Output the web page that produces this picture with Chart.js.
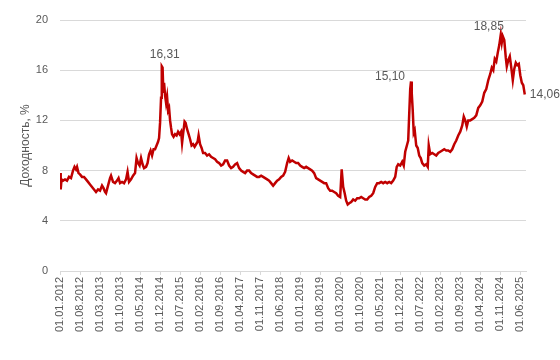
<!DOCTYPE html>
<html>
<head>
<meta charset="utf-8">
<script src="https://cdn.jsdelivr.net/npm/chart.js@4"></script>
<style>
  body { margin: 0; background: #fff; }
</style>
</head>
<body>
<canvas id="chart" width="560" height="360"></canvas>
<script>
// месяцы от 01.01.2012
const months = [
  0, 0.25, 0.53, 1.05, 1.75, 2.45, 3.15, 3.85, 4.55, 5.08, 5.6, 5.95, 6.48, 7, 7.7, 8.4, 9.1, 9.8, 10.5, 11.2,
  11.9, 12.6, 13.3, 14, 14.7, 15.23, 15.75, 16.1, 16.8, 17.5, 17.85, 18.55, 19.25, 19.95, 20.48, 21, 21.7, 22.4, 23.1, 23.63,
  24.15, 24.85, 25.55, 26.25, 26.78, 27.3, 27.83, 28.35, 28.88, 29.4, 30.1, 30.63, 31.15, 31.68, 32.2, 32.73, 33.25, 33.78, 34.3, 34.65,
  35, 35.35, 35.6, 35.88, 36.16, 36.4, 36.75, 37.1, 37.45, 37.8, 38.15, 38.5, 38.85, 39.2, 39.73, 40.25, 40.78, 41.3, 41.83, 42.35,
  42.7, 43.05, 43.58, 43.93, 44.45, 44.98, 45.5, 46.03, 46.55, 47.08, 47.6, 48.13, 48.48, 49, 49.53, 50.05, 50.75, 51.45, 52.15, 52.85,
  53.55, 54.25, 54.95, 55.65, 56.35, 57.05, 57.75, 58.45, 59.15, 59.85, 60.55, 61.25, 61.95, 62.65, 63.35, 64.05, 64.75, 65.45, 66.15, 66.85,
  67.55, 68.25, 68.95, 69.65, 70.35, 71.05, 71.75, 72.45, 73.15, 73.85, 74.55, 75.25, 75.95, 76.65, 77.35, 78.05, 78.75, 79.45, 79.98, 80.5,
  81.2, 81.9, 82.6, 83.3, 84, 84.7, 85.4, 86.1, 86.8, 87.5, 88.2, 88.9, 89.6, 90.3, 91, 91.7, 92.4, 93.1, 93.8, 94.5,
  95.2, 95.9, 96.6, 97.3, 98, 98.53, 99.05, 99.58, 100.1, 100.63, 101.15, 101.85, 102.55, 103.25, 103.95, 104.65, 105.35, 106.05, 106.75, 107.45,
  108.15, 108.85, 109.55, 110.25, 110.95, 111.65, 112.35, 113.05, 113.75, 114.45, 115.15, 115.85, 116.55, 117.25, 117.78, 118.3, 119, 119.7, 120.23, 120.75,
  121.45, 121.8, 122.15, 122.5, 122.78, 123.03, 123.38, 123.73, 124.08, 124.6, 125.13, 125.65, 126.18, 126.7, 127.4, 128.1, 128.63, 128.98, 129.5, 130.2,
  130.9, 131.6, 132.3, 133, 133.7, 134.4, 135.1, 135.8, 136.5, 137.2, 137.9, 138.6, 139.3, 140, 140.7, 141.23, 141.75, 142.28, 142.8, 143.5,
  144.2, 144.9, 145.6, 146.3, 147, 147.7, 148.4, 149.1, 149.8, 150.5, 151.03, 151.55, 152.08, 152.6, 153.13, 153.65, 154.18, 154.53, 154.88, 155.4,
  155.93, 156.28, 156.8, 157.33, 157.85, 158.38, 158.9, 159.43, 159.95, 160.48, 161, 161.53, 162.05, 162.58
];

const yields = [
  7.8, 6.5, 7.3, 7.2, 7.3, 7.2, 7.5, 7.4, 8.0, 8.3, 8.1, 8.3, 7.8, 7.7, 7.5, 7.5, 7.3, 7.1, 6.9, 6.7,
  6.5, 6.3, 6.5, 6.4, 6.8, 6.6, 6.3, 6.2, 6.8, 7.4, 7.6, 7.1, 7.0, 7.2, 7.4, 7.0, 7.1, 7.0, 7.3, 7.9,
  7.1, 7.3, 7.6, 7.8, 9.0, 8.6, 8.4, 9.0, 8.5, 8.2, 8.3, 8.6, 9.3, 9.6, 9.2, 9.7, 9.7, 10.0, 10.3, 10.6,
  11.8, 13.8, 16.31, 16.2, 14.2, 15.0, 14.0, 13.4, 13.9, 12.8, 13.0, 12.0, 11.4, 10.9, 10.7, 10.9, 10.8, 11.1, 10.9, 11.1,
  10.2, 10.9, 11.9, 11.8, 11.3, 10.9, 10.5, 10.0, 10.1, 9.9, 10.1, 10.3, 10.8, 10.1, 9.8, 9.4, 9.4, 9.2, 9.3, 9.1,
  9.0, 8.9, 8.7, 8.6, 8.4, 8.5, 8.8, 8.8, 8.4, 8.2, 8.3, 8.5, 8.6, 8.2, 8.0, 7.9, 7.8, 8.0, 8.0, 7.8,
  7.7, 7.6, 7.5, 7.5, 7.6, 7.5, 7.4, 7.3, 7.2, 7.0, 6.8, 7.0, 7.2, 7.3, 7.5, 7.6, 7.9, 8.6, 9.0, 8.7,
  8.8, 8.7, 8.6, 8.6, 8.4, 8.3, 8.2, 8.3, 8.2, 8.1, 8.0, 7.8, 7.4, 7.3, 7.2, 7.1, 7.0, 7.0, 6.6, 6.4,
  6.4, 6.3, 6.2, 6.0, 5.9, 8.1, 6.7, 6.2, 5.6, 5.3, 5.4, 5.5, 5.7, 5.6, 5.8, 5.8, 5.9, 5.8, 5.7, 5.7,
  5.9, 6.0, 6.2, 6.7, 7.0, 7.0, 7.1, 7.0, 7.1, 7.0, 7.1, 7.0, 7.2, 7.5, 8.3, 8.5, 8.4, 8.7, 8.4, 9.5,
  10.1, 10.4, 12.5, 14.5, 15.10, 14.2, 12.8, 11.0, 11.2, 10.0, 9.8, 9.2, 9.0, 8.6, 8.4, 8.5, 8.3, 10.0, 9.3, 9.4,
  9.3, 9.2, 9.4, 9.5, 9.6, 9.7, 9.6, 9.6, 9.5, 9.7, 10.1, 10.4, 10.8, 11.1, 11.6, 12.3, 12.0, 11.5, 12.0, 12.0,
  12.1, 12.2, 12.4, 13.0, 13.2, 13.5, 14.2, 14.5, 15.2, 15.7, 16.2, 16.0, 16.9, 16.7, 17.4, 18.0, 18.85, 18.2, 18.7, 18.4,
  17.0, 16.3, 16.8, 17.1, 16.2, 15.2, 16.1, 16.6, 16.4, 16.5, 15.6, 15.0, 14.8, 14.06
];

const tickLabels = [
  '01.01.2012', '01.08.2012', '01.03.2013', '01.10.2013', '01.05.2014', '01.12.2014',
  '01.07.2015', '01.02.2016', '01.09.2016', '01.04.2017', '01.11.2017', '01.06.2018',
  '01.01.2019', '01.08.2019', '01.03.2020', '01.10.2020', '01.05.2021', '01.12.2021',
  '01.07.2022', '01.02.2023', '01.09.2023', '01.04.2024', '01.11.2024', '01.06.2025'
];

// подписи значений: значение точки, смещение текста
const callouts = [
  { value: 16.31, dx: 3, dy: -12 },
  { value: 15.10, dx: -21, dy: -5 },
  { value: 18.85, dx: -12, dy: -8 },
  { value: 14.06, dx: 20, dy: 0 }
];

const tickMonths = tickLabels.map(s => {
  const p = s.split('.');
  return (Number(p[2]) - 2012) * 12 + Number(p[1]) - 1;
});

const textColor = '#595959';
const gridColor = '#d9d9d9';
const font = { family: 'Liberation Sans, Arial, sans-serif', size: 11 };

const valueLabels = {
  id: 'valueLabels',
  afterDatasetsDraw(chart) {
    const ctx = chart.ctx;
    const meta = chart.getDatasetMeta(0);
    ctx.save();
    ctx.font = '12px Liberation Sans, Arial, sans-serif';
    ctx.fillStyle = textColor;
    ctx.textAlign = 'center';
    ctx.textBaseline = 'middle';
    callouts.forEach(c => {
      const i = yields.indexOf(c.value);
      if (i < 0) return;
      const pt = meta.data[i];
      ctx.fillText(c.value.toFixed(2).replace('.', ','), pt.x + c.dx, pt.y + c.dy);
    });
    ctx.restore();
  }
};

new Chart(document.getElementById('chart').getContext('2d'), {
  type: 'line',
  data: {
    datasets: [{
      data: months.map((m, i) => ({ x: m, y: yields[i] })),
      borderColor: '#c00000',
      borderWidth: 2.5,
      pointRadius: 0,
      tension: 0,
      fill: false
    }]
  },
  options: {
    responsive: false,
    animation: false,
    layout: { padding: { top: 20, right: 34, bottom: 0, left: 0 } },
    plugins: {
      legend: { display: false },
      tooltip: { enabled: false }
    },
    scales: {
      x: {
        type: 'linear',
        min: 0,
        max: 163,
        afterBuildTicks: scale => { scale.ticks = tickMonths.map(v => ({ value: v })); },
        afterFit: scale => { scale.height = 89; },
        grid: { drawOnChartArea: false, drawTicks: true, tickLength: 4, color: gridColor },
        border: { color: gridColor },
        ticks: {
          color: textColor,
          font: font,
          padding: 2,
          autoSkip: false,
          minRotation: 90,
          maxRotation: 90,
          callback: (v, i) => tickLabels[i]
        }
      },
      y: {
        min: 0,
        max: 20,
        afterFit: scale => { scale.width = 60; },
        grid: { color: gridColor, drawTicks: false },
        border: { display: false },
        ticks: { stepSize: 4, color: textColor, font: font, padding: 12 },
        title: {
          display: true,
          text: 'Доходность, %',
          color: textColor,
          font: { family: 'Liberation Sans, Arial, sans-serif', size: 12 },
          padding: { top: 18, bottom: 0 }
        }
      }
    }
  },
  plugins: [valueLabels]
});
</script>
</body>
</html>
